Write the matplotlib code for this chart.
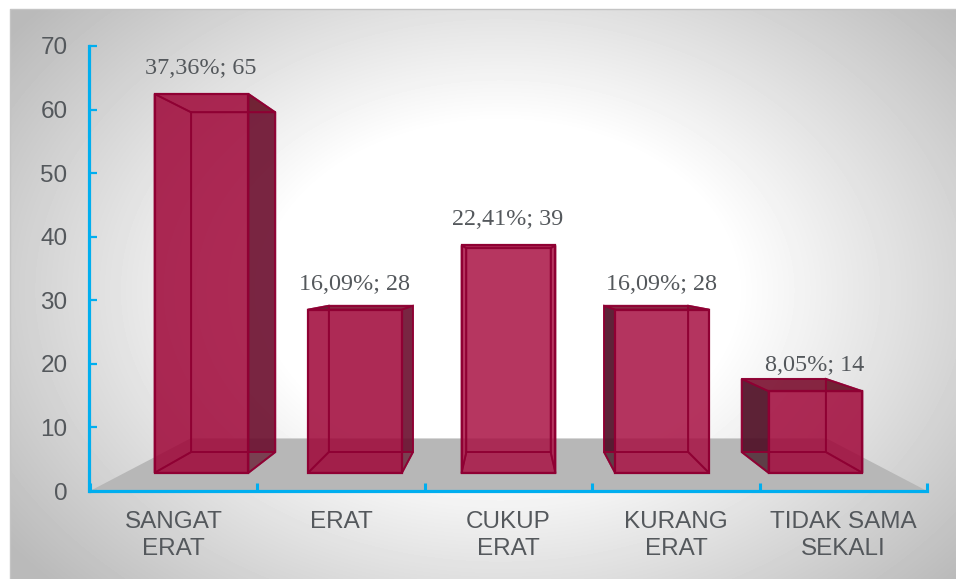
import numpy as np
import matplotlib
matplotlib.use("Agg")
import matplotlib.pyplot as plt
from matplotlib.patches import Polygon
from matplotlib.path import Path

categories = ["SANGAT\nERAT", "ERAT", "CUKUP\nERAT", "KURANG\nERAT", "TIDAK SAMA\nSEKALI"]
values = [65, 28, 39, 28, 14]
percents = ["37,36%", "16,09%", "22,41%", "16,09%", "8,05%"]
y_ticks = [0, 10, 20, 30, 40, 50, 60, 70]

W, H = 956, 579
AXIS = "#00AEEF"
TEXT = "#54585C"
BAR_W = 0.612
S_FRONT, S_BACK, S_FLOOR = 0.917, 0.822, 0.76
EYE_X, EYE_Y = 2.5, 34.45
FRONT_COL = [(0.64, 0.02, 0.20), (0.64, 0.02, 0.20), (0.70, 0.10, 0.28), (0.69, 0.09, 0.27), (0.65, 0.03, 0.21)]
BACK_COL = (0.59, 0.0, 0.235)
LEFT_DARK = (0.23, 0.06, 0.11)
RIGHT_DARK = (0.38, 0.07, 0.165)
TOP_DARK = (0.38, 0.0, 0.08)
EDGE = (0.56, 0.0, 0.20)


def project(x, y, s):
    return (EYE_X + s * (x - EYE_X), EYE_Y + s * (y - EYE_Y))


fig = plt.figure(figsize=(W / 100, H / 100), dpi=100, facecolor="white")

# panel background
bg = fig.add_axes([0, 0, 1, 1], zorder=0)
bg.axis("off")
px, py = np.meshgrid(np.arange(10, 956), np.arange(9, 579))
d = np.sqrt(((px - 500) / 560.0) ** 2 + ((py - 290) / 400.0) ** 2)
shade = np.clip(1.0 - 0.27 * np.clip((d - 0.42) / 0.66, 0, 1), 0, 1)
bg.imshow(shade, extent=(10, 956, 579, 9), cmap="gray", vmin=0, vmax=1, aspect="auto", interpolation="bilinear")
bg.set_xlim(0, W)
bg.set_ylim(H, 0)
bg.plot([10, 10, 956], [579, 9, 9], color="#C4C4C4", lw=1)

# chart axes
ax = fig.add_axes([90 / W, (H - 491) / H, 837 / W, 445 / H], zorder=1)
ax.patch.set_alpha(0)
ax.set_xlim(0, 5)
ax.set_ylim(0, 70)
ax.set_axisbelow(False)

floor = [project(0, 0, 1), project(5, 0, 1), project(5, 0, S_FLOOR), project(0, 0, S_FLOOR)]
ax.add_patch(Polygon(floor, closed=True, fc="#B7B7B7", ec="none", zorder=1))


def face(pts, color, alpha, clip=None, z=2):
    p = Polygon(pts, closed=True, fc=color, ec="none", alpha=alpha, zorder=z)
    ax.add_patch(p)
    if clip is not None:
        p.set_clip_path(clip, ax.transData)
    return p


for i, v in enumerate(values):
    c = i + 0.5
    x0, x1 = c - BAR_W / 2, c + BAR_W / 2
    f = lambda x, y: project(x, y, S_FRONT)
    b = lambda x, y: project(x, y, S_BACK)
    front = [f(x0, 0), f(x1, 0), f(x1, v), f(x0, v)]
    back = [b(x0, 0), b(x1, 0), b(x1, v), b(x0, v)]
    left = [f(x0, 0), b(x0, 0), b(x0, v), f(x0, v)]
    right = [f(x1, 0), b(x1, 0), b(x1, v), f(x1, v)]
    top = [f(x0, v), f(x1, v), b(x1, v), b(x0, v)]
    bottom = [f(x0, 0), f(x1, 0), b(x1, 0), b(x0, 0)]

    inside = Path(front + [front[0]], closed=True)
    box = [(-1, -10), (-1, 90), (6, 90), (6, -10), (-1, -10)]
    outside = Path(
        box + front + [front[0]],
        [Path.MOVETO, Path.LINETO, Path.LINETO, Path.LINETO, Path.CLOSEPOLY,
         Path.MOVETO, Path.LINETO, Path.LINETO, Path.LINETO, Path.CLOSEPOLY],
    )

    face(back, BACK_COL, 0.65)
    # side, top and bottom faces look like the back wall where the front covers them
    for poly in (left, right, top, bottom):
        face(poly, BACK_COL, 0.65, clip=inside)
    # and dark where they stick out from behind the front
    face(left, LEFT_DARK, 0.72, clip=outside, z=3)
    face(right, RIGHT_DARK, 0.72, clip=outside, z=3)
    face(top, TOP_DARK, 0.55, clip=outside, z=3)
    face(front, FRONT_COL[i], 0.55, z=4)

    for poly in (back, left, right, top, bottom):
        ax.add_patch(Polygon(poly, closed=True, fc="none", ec=EDGE, lw=1.3, alpha=0.85, zorder=5, joinstyle="miter"))
    ax.add_patch(Polygon(front, closed=True, fc="none", ec=EDGE, lw=1.6, zorder=6, joinstyle="miter"))

    tx, ty = f(c, v)
    ax.annotate(f"{percents[i]}; {v}", xy=(tx, ty), xytext=(-0.7, 25.5 * 0.72), textcoords="offset points",
                ha="center", va="center", family="Liberation Serif", fontsize=17.4, color=TEXT, zorder=8)

# axes styling
for s in ("top", "right"):
    ax.spines[s].set_visible(False)
for s in ("left", "bottom"):
    ax.spines[s].set_color(AXIS)
    ax.spines[s].set_linewidth(2.3)
    ax.spines[s].set_capstyle("projecting")
    ax.spines[s].set_zorder(7)
ax.spines["left"].set_position(("outward", 0.7))

ax.set_yticks(y_ticks)
ax.tick_params(axis="y", which="major", direction="in", length=5.5, width=1.6, color=AXIS, pad=15.5,
               labelsize=17.5, labelcolor=TEXT, labelfontfamily="Liberation Sans")
ax.set_xticks(range(6))
ax.set_xticks([i + 0.5 for i in range(5)], labels=categories, minor=True)
ax.tick_params(axis="x", which="major", direction="in", length=6, width=2.2, color=AXIS, labelbottom=False)
ax.tick_params(axis="x", which="minor", length=0, pad=14.5, labelsize=17.5, labelcolor=TEXT,
               labelfontfamily="Liberation Sans")
for t in ax.get_xminorticklabels():
    t.set_linespacing(1.28)
for t in ax.xaxis.get_major_ticks() + ax.yaxis.get_major_ticks():
    t.tick1line.set_zorder(7)

fig.savefig("out.png", dpi=100)
